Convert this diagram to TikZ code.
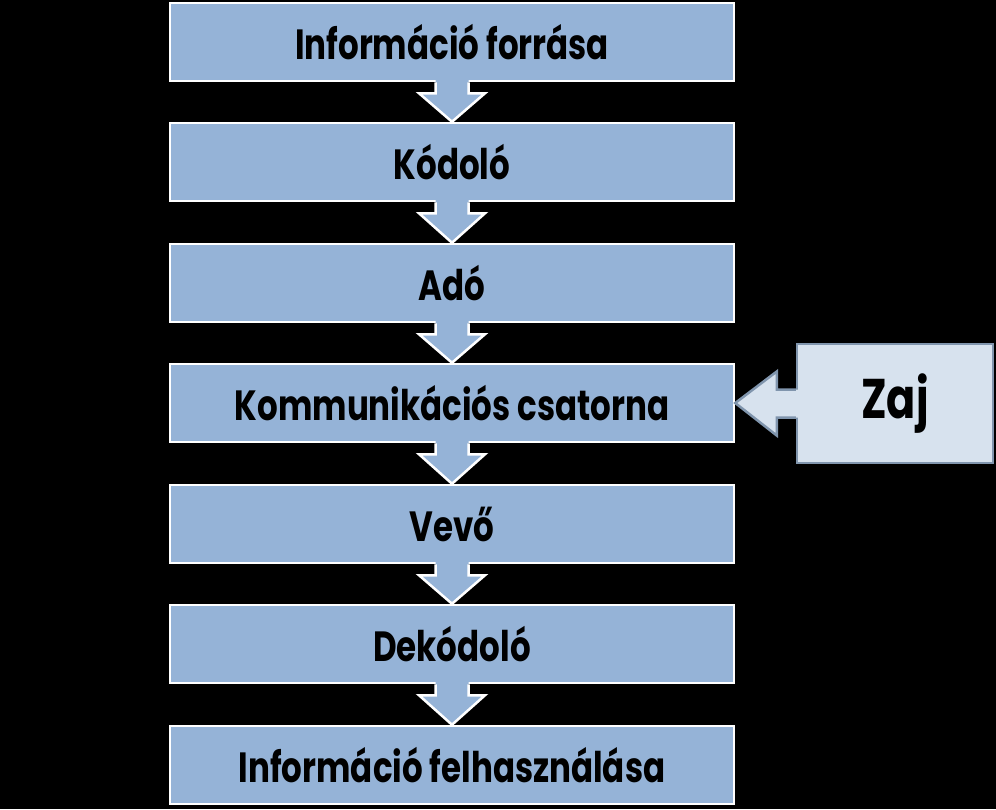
\documentclass[tikz,border=0pt]{standalone}
\usepackage{fontspec}
\setmainfont{Poppins}
\usetikzlibrary{calc}
\definecolor{boxblue}{HTML}{95B3D7}
\definecolor{zajfill}{HTML}{D7E2EE}
\definecolor{zajline}{HTML}{8095AD}
\newcommand{\talltext}[1]{\scalebox{1}[1.3]{#1}}
\tikzset{
  flowbox/.style={draw=white, line width=2.5pt, fill=boxblue, minimum width=564pt, minimum height=78pt, inner sep=0pt, font=\fontsize{32.5}{36}\selectfont\bfseries},
  zajbox/.style={draw=zajline, line width=2.5pt, fill=zajfill, minimum width=196pt, minimum height=119pt, inner sep=0pt, font=\fontsize{43}{48}\selectfont\bfseries},
  arrowfill/.style={fill=boxblue, draw=none},
  arrowline/.style={draw=white, line width=2.5pt, line join=miter},
}
\begin{document}
\begin{tikzpicture}[x=1pt,y=-1pt]
\fill[black] (0,0) rectangle (996,809);
\useasboundingbox (0,0) rectangle (996,809);
\node[flowbox] (b1) at (452,42) {\talltext{Információ forrása}};
\node[flowbox] (b2) at (452,162) {\talltext{Kódoló}};
\node[flowbox] (b3) at (452,283) {\talltext{Adó}};
\node[flowbox] (b4) at (452,403) {\talltext{Kommunikációs csatorna}};
\node[flowbox] (b5) at (452,524) {\talltext{Vevő}};
\node[flowbox] (b6) at (452,644) {\talltext{Dekódoló}};
\node[flowbox] (b7) at (452,765) {\talltext{Információ felhasználása}};
\node[zajbox] (zaj) at (895,403.5) {\talltext{Zaj}};
% down arrows
\foreach \a/\b in {b1/b2,b2/b3,b3/b4,b4/b5,b5/b6,b6/b7}{
  \fill[arrowfill] ($(\a.south)+(-16.5,-3)$) -- ($(\a.south)+(-16.5,11)$) -- ($(\a.south)+(-33,11)$) -- (\b.north) -- ($(\a.south)+(33,11)$) -- ($(\a.south)+(16.5,11)$) -- ($(\a.south)+(16.5,-3)$) -- cycle;
  \draw[arrowline] ($(\a.south)+(-16.5,0)$) -- ($(\a.south)+(-16.5,11)$) -- ($(\a.south)+(-33,11)$) -- (\b.north) -- ($(\a.south)+(33,11)$) -- ($(\a.south)+(16.5,11)$) -- ($(\a.south)+(16.5,0)$);
}
% Zaj arrow
\fill[zajfill] ($(zaj.west)+(3,-14)$) -- ($(zaj.west)+(-19,-14)$) -- ($(zaj.west)+(-19,-32)$) -- (b4.east) -- ($(zaj.west)+(-19,32)$) -- ($(zaj.west)+(-19,14)$) -- ($(zaj.west)+(3,14)$) -- cycle;
\draw[draw=zajline, line width=2.5pt, line join=miter] ($(zaj.west)+(0,-14)$) -- ($(zaj.west)+(-19,-14)$) -- ($(zaj.west)+(-19,-32)$) -- (b4.east) -- ($(zaj.west)+(-19,32)$) -- ($(zaj.west)+(-19,14)$) -- ($(zaj.west)+(0,14)$);
\end{tikzpicture}
\end{document}
